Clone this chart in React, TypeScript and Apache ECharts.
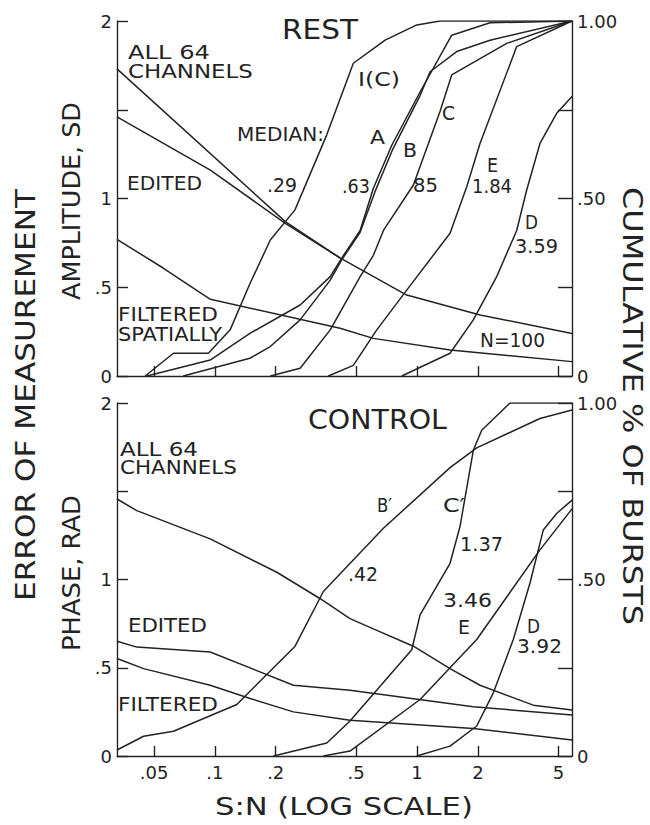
import React, { useEffect, useRef } from 'react';
import * as echarts from 'echarts';

const FONT = '"DejaVu Sans", sans-serif';
const INK = '#232323';

// ---------- x axis (S:N, log scale) ----------
const SN_MIN = 0.0328;
const SN_MAX = 5.84;
const SN_TICKS = [0.05, 0.1, 0.2, 0.5, 1, 2, 5];
const SN_TICK_LABELS = ['.05', '.1', '.2', '.5', '1', '2', '5'];

// ---------- REST panel: amplitude error (SD) ----------
const REST_ALL64_SN = [0.0328, 0.223, 0.416, 0.889, 2.05, 5.84];
const REST_ALL64_SD = [1.73, 0.87, 0.665, 0.456, 0.344, 0.24];
const REST_EDITED_SN = [0.0328, 0.095, 0.223, 0.416];
const REST_EDITED_SD = [1.46, 1.16, 0.86, 0.665];
const REST_FILTERED_SN = [0.0328, 0.0557, 0.095, 0.416, 0.608, 1.46, 5.84];
const REST_FILTERED_SD = [0.77, 0.607, 0.432, 0.269, 0.212, 0.146, 0.081];

// ---------- REST panel: cumulative % of bursts ----------
const REST_IC_SN = [0.0452, 0.0624, 0.0929, 0.119, 0.149, 0.188, 0.249, 0.358, 0.484, 0.695, 0.997, 1.3, 5.84];
const REST_IC_CUM = [0, 0.064, 0.064, 0.13, 0.26, 0.383, 0.468, 0.68, 0.881, 0.946, 0.989, 1.0, 1.0];
const REST_A_SN = [0.0461, 0.0948, 0.149, 0.264, 0.372, 0.424, 0.523, 0.608, 0.75, 1.035, 1.484, 2.296, 5.84];
const REST_A_CUM = [0, 0.045, 0.12, 0.2, 0.28, 0.332, 0.41, 0.529, 0.65, 0.8, 0.96, 0.995, 1.0];
const REST_B_SN = [0.0697, 0.149, 0.188, 0.264, 0.372, 0.424, 0.523, 0.62, 0.76, 1.035, 1.16, 1.571, 2.296, 5.84];
const REST_B_CUM = [0, 0.05, 0.083, 0.158, 0.27, 0.327, 0.405, 0.52, 0.64, 0.79, 0.857, 0.914, 0.946, 1.0];
const REST_C_SN = [0.188, 0.264, 0.372, 0.523, 0.608, 0.682, 0.959, 1.299, 1.484, 2.776, 5.84];
const REST_C_CUM = [0, 0.022, 0.13, 0.28, 0.34, 0.41, 0.538, 0.745, 0.848, 0.937, 1.0];
const REST_E_SN = [0.364, 0.484, 0.632, 0.889, 1.456, 1.761, 2.048, 3.111, 5.84];
const REST_E_CUM = [0, 0.03, 0.13, 0.242, 0.402, 0.533, 0.655, 0.928, 1.0];
const REST_D_SN = [0.84, 1.456, 1.898, 2.477, 3.111, 3.486, 4.055, 4.904, 5.84];
const REST_D_CUM = [0, 0.064, 0.158, 0.28, 0.41, 0.524, 0.655, 0.74, 0.787];

// ---------- CONTROL panel: phase error (RAD) ----------
const CTRL_ALL64_SN = [0.0328, 0.0411, 0.0948, 0.2025, 0.332, 0.466, 0.608, 0.959, 1.456, 2.048, 3.757, 5.84];
const CTRL_ALL64_RAD = [1.456, 1.39, 1.23, 1.041, 0.891, 0.778, 0.72, 0.622, 0.495, 0.401, 0.288, 0.26];
const CTRL_EDITED_SN = [0.0328, 0.0411, 0.0948, 0.2446, 0.466, 1.898, 5.84];
const CTRL_EDITED_RAD = [0.65, 0.617, 0.589, 0.401, 0.373, 0.279, 0.232];
const CTRL_FILTERED_SN = [0.0328, 0.0444, 0.0948, 0.1494, 0.2446, 0.466, 1.898, 5.84];
const CTRL_FILTERED_RAD = [0.552, 0.495, 0.401, 0.326, 0.25, 0.203, 0.156, 0.09];

// ---------- CONTROL panel: cumulative % of bursts ----------
const CTRL_BP_SN = [0.0328, 0.0444, 0.0624, 0.1284, 0.2493, 0.344, 0.6816, 1.456, 1.973, 4.055, 5.84];
const CTRL_BP_CUM = [0.017, 0.056, 0.07, 0.146, 0.311, 0.466, 0.645, 0.817, 0.873, 0.956, 0.98];
const CTRL_CP_SN = [0.1949, 0.3578, 0.466, 0.9414, 1.035, 1.456, 1.631, 1.898, 2.088, 2.882, 5.84];
const CTRL_CP_CUM = [0, 0.037, 0.099, 0.301, 0.4, 0.546, 0.65, 0.866, 0.923, 1.0, 1.0];
const CTRL_E_SN = [0.344, 0.466, 1.035, 1.973, 4.055, 5.84];
const CTRL_E_CUM = [0, 0.014, 0.16, 0.33, 0.584, 0.7];
const CTRL_D_SN = [0.9966, 1.456, 1.973, 2.384, 2.992, 3.62, 4.21, 4.904, 5.84];
const CTRL_D_CUM = [0, 0.028, 0.085, 0.179, 0.33, 0.49, 0.64, 0.687, 0.725];

// ---------- annotation layout: [text, left, right, centerY, fontSize] ----------
const NOTES: [string, number, number, number, number][] = [
  ['REST', 282, 358, 30, 27],
  ['ALL 64', 128, 210, 52, 19],
  ['CHANNELS', 128, 253, 71, 19],
  ['MEDIAN:', 237, 324, 135, 19],
  ['EDITED', 127, 202, 184, 19],
  ['.29', 267, 297, 185, 19],
  ['FILTERED', 118, 218, 314, 19],
  ['SPATIALLY', 118, 222, 334, 19],
  ['I(C)', 358, 400, 79, 20],
  ['A', 370, 385, 137, 20],
  ['B', 403, 417, 150, 20],
  ['C', 442, 455, 113, 20],
  ['.63', 342, 370, 186, 19],
  ['85', 413, 438, 186, 19],
  ['E', 487, 498, 165, 20],
  ['1.84', 472, 512, 186, 19],
  ['D', 525, 538, 222, 20],
  ['3.59', 515, 558, 247, 19],
  ['N=100', 480, 545, 340, 19],
  ['CONTROL', 308, 447, 420, 27],
  ['ALL 64', 120, 198, 449, 19],
  ['CHANNELS', 120, 237, 467, 19],
  ['EDITED', 128, 207, 625, 19],
  ['FILTERED', 118, 218, 704, 19],
  ['B\u2032', 377, 392, 505, 20],
  ['C\u2032', 443, 465, 505, 20],
  ['.42', 348, 378, 574, 19],
  ['1.37', 460, 503, 545, 19],
  ['3.46', 443, 492, 601, 19],
  ['E', 458, 470, 627, 20],
  ['D', 527, 540, 626, 20],
  ['3.92', 517, 562, 647, 19],
  ['S:N (LOG SCALE)', 215, 473, 807, 25],
];
// rotated titles: [text, centerX, centerY, length, fontSize, rotation]
const TITLES: [string, number, number, number, number, number][] = [
  ['ERROR OF MEASUREMENT', 26, 395, 412, 27, Math.PI / 2],
  ['AMPLITUDE, SD', 72, 201, 198, 24, Math.PI / 2],
  ['PHASE, RAD', 72, 573, 156, 24, Math.PI / 2],
  ['CUMULATIVE % OF BURSTS', 632, 406, 438, 27, -Math.PI / 2],
];

const lg = (v: number) => Math.log10(v);
const pts = (xs: number[], ys: number[]) => xs.map((x, i) => [lg(x), ys[i]]);

let measureCtx: CanvasRenderingContext2D | null = null;
function textWidth(text: string, size: number) {
  if (!measureCtx) measureCtx = document.createElement('canvas').getContext('2d');
  if (!measureCtx) return text.length * size * 0.6;
  measureCtx.font = `${size}px ${FONT}`;
  return measureCtx.measureText(text).width;
}

function tickLabel(v: number) {
  let best = 0;
  let bd = Infinity;
  SN_TICKS.forEach((t, i) => {
    const d = Math.abs(lg(t) - v);
    if (d < bd) { bd = d; best = i; }
  });
  return bd < 1e-6 ? SN_TICK_LABELS[best] : '';
}

const lineStyleAxis = { color: INK, width: 1.4 };

function xAxis(gridIndex: number, showLabels: boolean) {
  const custom = SN_TICKS.map(lg);
  return {
    type: 'value',
    gridIndex,
    min: lg(SN_MIN),
    max: lg(SN_MAX),
    axisLine: { show: true, onZero: false, lineStyle: lineStyleAxis },
    axisTick: { show: true, inside: true, length: 10, customValues: custom, lineStyle: lineStyleAxis },
    axisLabel: {
      show: showLabels,
      customValues: custom,
      formatter: (v: number) => tickLabel(v),
      fontSize: 18,
      color: INK,
      fontFamily: FONT,
      margin: 7,
    },
    splitLine: { show: false },
  };
}

function yAxis(gridIndex: number, right: boolean) {
  return {
    type: 'value',
    gridIndex,
    position: right ? 'right' : 'left',
    min: 0,
    max: right ? 1 : 2,
    interval: right ? 0.25 : 0.5,
    axisLine: { show: true, onZero: false, lineStyle: lineStyleAxis },
    axisTick: { show: true, inside: true, length: right ? 14 : 11, lineStyle: lineStyleAxis },
    axisLabel: {
      fontSize: 18,
      color: INK,
      fontFamily: FONT,
      margin: 5,
      formatter: (v: number) => {
        if (right) {
          if (v === 0) return '0';
          if (v === 0.5) return '.50';
          if (v === 1) return '1.00';
          return '';
        }
        if (v === 0) return '0';
        if (v === 0.5) return '.5';
        if (v === 1) return '1';
        if (v === 2) return '2';
        return '';
      },
    },
    splitLine: { show: false },
  };
}

function line(name: string, xs: number[], ys: number[], xAxisIndex: number, yAxisIndex: number) {
  return {
    name,
    type: 'line',
    xAxisIndex,
    yAxisIndex,
    data: pts(xs, ys),
    symbol: 'none',
    showSymbol: false,
    silent: true,
    lineStyle: { color: INK, width: 1.5 },
    z: 3,
  };
}

export default function App() {
  const ref = useRef<HTMLDivElement>(null);
  useEffect(() => {
    document.body.style.margin = '0';
    const chart = echarts.init(ref.current!, null, { renderer: 'svg' });

    const graphics: any[] = [];
    NOTES.forEach(([text, x0, x1, cy, size]) => {
      const w = textWidth(text, size);
      graphics.push({
        type: 'text',
        x: x0,
        y: cy,
        scaleX: (x1 - x0) / w,
        silent: true,
        style: {
          text,
          fontSize: size,
          fontFamily: FONT,
          fill: INK,
          align: 'left',
          verticalAlign: 'middle',
          textAlign: 'left',
          textVerticalAlign: 'middle',
        },
      });
    });
    TITLES.forEach(([text, cx, cy, len, size, rot]) => {
      const w = textWidth(text, size);
      graphics.push({
        type: 'text',
        x: cx,
        y: cy,
        rotation: rot,
        scaleX: len / w,
        silent: true,
        style: {
          text,
          fontSize: size,
          fontFamily: FONT,
          fill: INK,
          align: 'center',
          verticalAlign: 'middle',
          textAlign: 'center',
          textVerticalAlign: 'middle',
        },
      });
    });

    const option: any = {
      animation: false,
      backgroundColor: '#ffffff',
      grid: [
        { left: 117, right: 78, top: 21, height: 355 },
        { left: 117, right: 78, top: 403, height: 353 },
      ],
      xAxis: [xAxis(0, false), xAxis(1, true)],
      yAxis: [yAxis(0, false), yAxis(0, true), yAxis(1, false), yAxis(1, true)],
      series: [
        line('REST all 64 channels', REST_ALL64_SN, REST_ALL64_SD, 0, 0),
        line('REST edited', REST_EDITED_SN, REST_EDITED_SD, 0, 0),
        line('REST filtered spatially', REST_FILTERED_SN, REST_FILTERED_SD, 0, 0),
        line('I(C)', REST_IC_SN, REST_IC_CUM, 0, 1),
        line('A', REST_A_SN, REST_A_CUM, 0, 1),
        line('B', REST_B_SN, REST_B_CUM, 0, 1),
        line('C', REST_C_SN, REST_C_CUM, 0, 1),
        line('E', REST_E_SN, REST_E_CUM, 0, 1),
        line('D', REST_D_SN, REST_D_CUM, 0, 1),
        line('CONTROL all 64 channels', CTRL_ALL64_SN, CTRL_ALL64_RAD, 1, 2),
        line('CONTROL edited', CTRL_EDITED_SN, CTRL_EDITED_RAD, 1, 2),
        line('CONTROL filtered', CTRL_FILTERED_SN, CTRL_FILTERED_RAD, 1, 2),
        line("B'", CTRL_BP_SN, CTRL_BP_CUM, 1, 3),
        line("C'", CTRL_CP_SN, CTRL_CP_CUM, 1, 3),
        line('E (control)', CTRL_E_SN, CTRL_E_CUM, 1, 3),
        line('D (control)', CTRL_D_SN, CTRL_D_CUM, 1, 3),
      ],
      graphic: graphics,
    };
    chart.setOption(option);
    return () => chart.dispose();
  }, []);
  return (
    <div
      ref={ref}
      style={{ position: 'absolute', left: 0, top: 0, width: 650, height: 825, background: '#fff' }}
    />
  );
}
